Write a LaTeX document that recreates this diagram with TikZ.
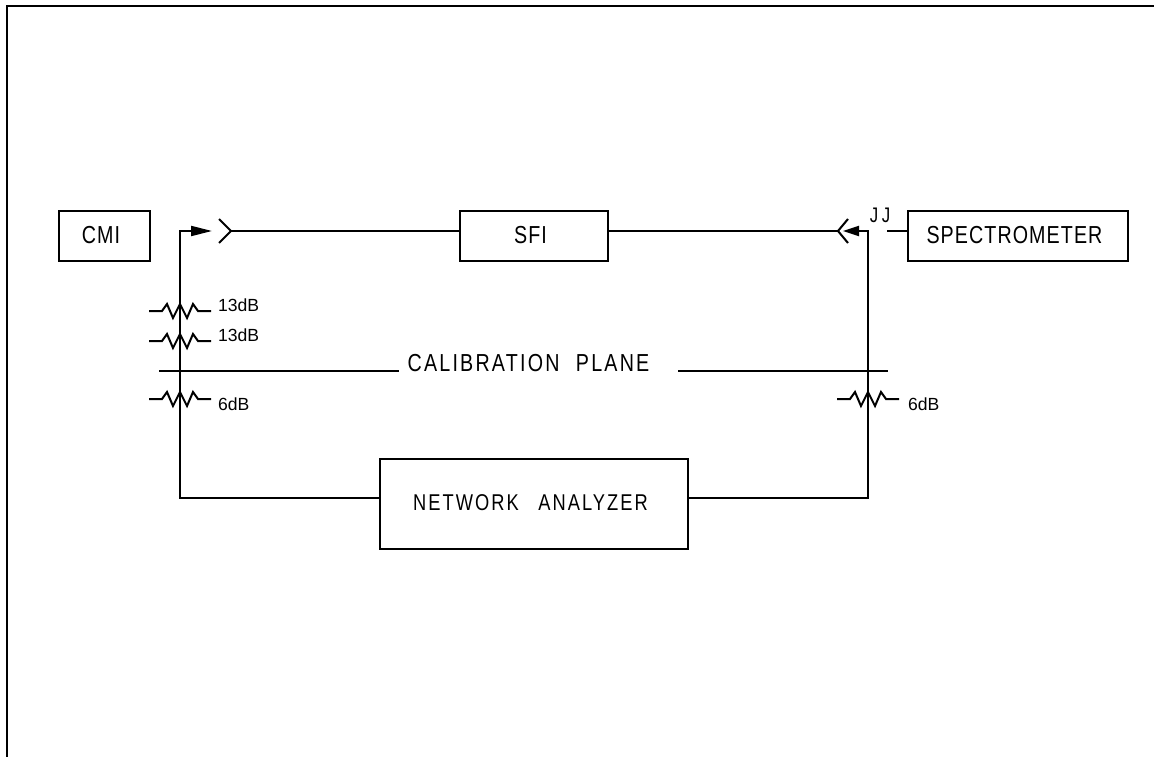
\documentclass[tikz,border=0pt]{standalone}
\usepackage{fontspec}
\setmainfont{Liberation Sans}
\newfontface\cadfont[FakeStretch=0.8,LetterSpace=4.4]{Liberation Sans}
\newfontface\cadwide[FakeStretch=0.8,LetterSpace=9]{Liberation Sans}
\usepackage{tikz}
\usetikzlibrary{arrows.meta}

% one attenuator: name, x and y of the line it sits on
\newcommand{\atten}[3]{
  \coordinate (#1l) at (#2-31,#3);
  \coordinate (#1r) at (#2+31,#3);
  \draw (#1l) -- ++(13,0) -- ++(5,-7) -- ++(6,14) -- ++(7,-14) -- ++(7,14)
    -- ++(6,-14) -- ++(5,7) -- (#1r);
}
% text sits a little up and left in its box
\newcommand{\boxtext}[1]{\raisebox{1.6pt}{#1\hspace{4pt}}}

\tikzset{
  block/.style={draw,rectangle,inner sep=0pt,minimum height=1cm,font=\cadfont\fontsize{14}{14}\selectfont},
  caption/.style={inner sep=0pt,font=\cadwide\fontsize{14}{14}\selectfont},
  loss/.style={inner sep=0pt,anchor=west,font=\fontsize{10}{10}\selectfont},
  feed/.style={-{Triangle[length=0.42cm,width=0.2cm]}},
  feedb/.style={-{Triangle[length=0.32cm,width=0.2cm]}}
}

\begin{document}
\begin{tikzpicture}[x=0.02cm,y=-0.02cm,line width=0.04cm]
\useasboundingbox (0,0) rectangle (1154,757);
\coordinate (framea) at (7,757);
\coordinate (frameb) at (7,6);
\coordinate (framec) at (1154,6);
\draw (framea) -- (frameb) -- (framec);

\node [block,minimum width=1.82cm] (cmi) at (104.5,236) {\boxtext{CMI}};
\node [block,minimum width=2.96cm] (sfi) at (534,236) {\boxtext{SFI}};
\node [block,minimum width=4.4cm] (spec) at (1018,236) {\boxtext{SPECTROMETER}};
\node [block,minimum width=6.16cm,minimum height=1.8cm,font=\cadwide\fontsize{13}{13}\selectfont] (na) at (534,504) {\boxtext{NETWORK\hspace{7pt} ANALYZER}};

% left side
\coordinate (leftlow) at (380,498);
\coordinate (lefttop) at (180,231);
\coordinate (lefttip) at (212,231);
\coordinate (leftplug) at (231,231);
\coordinate (leftsfi) at (460,231);
\draw [feed] (leftlow) -| (lefttop) -- (lefttip);
\draw (219,219) -- (leftplug) -- (219,243);
\draw (leftplug) -- (leftsfi);

% right side
\coordinate (rightlow) at (688,498);
\coordinate (righttop) at (868,231);
\coordinate (righttip) at (843,231);
\coordinate (rightplug) at (838,231);
\coordinate (rightsfi) at (608,231);
\coordinate (specstub) at (887,231);
\coordinate (specend) at (908,231);
\draw [feedb] (rightlow) -| (righttop) -- (righttip);
\draw (848,219) -- (rightplug) -- (848,243);
\draw (rightplug) -- (rightsfi);
\draw (specstub) -- (specend);
\node [caption,font=\cadfont\fontsize{12}{12}\selectfont] (jj) at (880,215.5) {J\,J};

% attenuators
\atten{aa}{180}{311}
\atten{ab}{180}{341}
\atten{ac}{180}{399}
\atten{ad}{868}{399}
\node [loss] (aat) at (217,305) {13dB};
\node [loss] (abt) at (217,335) {13dB};
\node [loss] (act) at (217,404) {6dB};
\node [loss] (adt) at (907,404) {6dB};

% plane
\node [caption] (plane) at (528.5,363) {CALIBRATION\hspace{5pt} PLANE};
\coordinate (planel) at (159,371);
\coordinate (planela) at (399,371);
\coordinate (planera) at (678,371);
\coordinate (planer) at (888,371);
\draw (planel) -- (planela);
\draw (planera) -- (planer);
\end{tikzpicture}
\end{document}
